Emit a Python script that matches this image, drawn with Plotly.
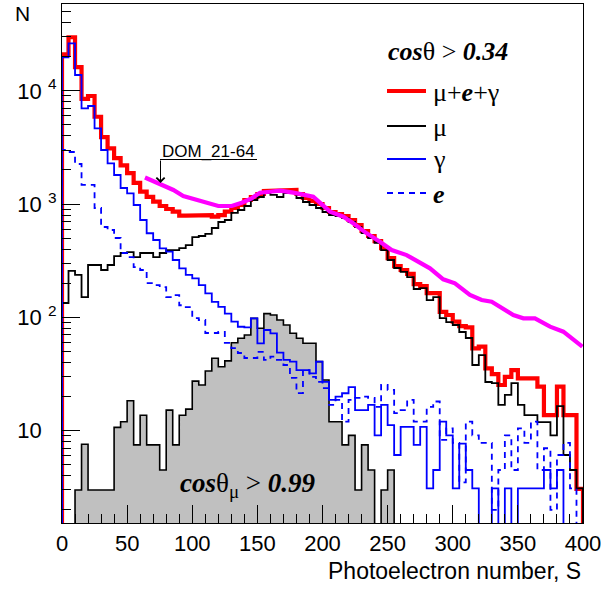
import plotly.graph_objects as go

# ---------------- data ----------------
BIN_WIDTH = 5          # photoelectrons per bin
S_MIN, S_MAX = 0, 400

# cos(theta) > 0.34 : mu + e + gamma (total)
total = [21000, 29700, 16200, 8500, 9000, 5900, 3900, 3100, 2550, 2200,
         1880, 1540, 1290, 1160, 1050, 962, 905, 857, 790, 790,
         801, 790, 800, 774, 800, 857, 924, 982, 1087, 1155,
         1228, 1305, 1332, 1305, 1332, 1332, 1228, 1132, 1065, 1002,
         924, 852, 818, 785, 724, 654, 579, 523, 472, 409,
         334, 284, 262, 242, 197, 189, 164, 164, 112, 105,
         91.6, 83.9, 81.7, 53.3, 55.1, 35.5, 31.6, 25.3, 29.9, 34.3,
         29.0, 29.0, 29.0, 24.5, 13.7, 13.7, 24.5, 13.7, 13.7, 3.06]

# muons
muon = [134, 257, 237, 151, 290, 290, 262, 290, 348, 370,
        377, 341, 370, 370, 341, 370, 393, 393, 409, 435,
        512, 523, 545, 615, 695, 724, 835, 887, 962, 1087,
        1155, 1253, 1204, 1155, 1253, 1253, 1132, 1044, 982, 924,
        852, 801, 785, 754, 695, 628, 556, 502, 454, 393,
        321, 273, 252, 227, 178, 181, 142, 151, 98.7, 91.0,
        85.7, 74.3, 65.8, 38.0, 46.5, 26.9, 26.3, 16.9, 20.7, 26.3,
        16.9, 13.7, 13.7, 11.9, 11.9, 9.1, 16.5, 6.1, 4.5, 3.1]

# gammas
gamma = [19750, 26250, 13790, 7006, 7341, 4666, 3002, 2291, 1806, 1387,
         1245, 982, 724, 553, 482, 407, 380, 321, 271, 237,
         221, 193, 163, 137, 124, 108, 91.6, 82.7, 81.7, 98.1,
         59.1, 77.4, 72.4, 48.8, 42.1, 40.7, 34.3, 34.3, 32.1, 40.7,
         27.0, 18.7, 20.0, 21.4, 24.2, 15.2, 15.2, 16.9, 9.1, 16.9,
         11.2, 6.1, 10.8, 10.8, 7.5, 10.8, 3.1, 4.5, 12.0, 9.1,
         3.1, 7.7, 4.5, 3.1, 1, 1, 3.1, 1, 3.1, 1,
         3.1, 3.1, 3.1, 3.1, 4.5, 3.1, 4.5, 1, 1, 1]

# electrons
electron = [3002, 2882, 2259, 1475, 1475, 924, 628, 591, 502, 370,
            341, 278, 262, 201, 193, 185, 151, 157, 128, 123,
            98.7, 94.8, 72.8, 72.8, 74.3, 59.5, 53.6, 48.5, 43.8, 43.8,
            49.7, 42.1, 45.0, 42.1, 38.0, 29.2, 21.5, 34.3, 29.9, 27.0,
            23.8, 16.9, 18.7, 12.0, 18.7, 19.5, 20.0, 19.5, 16.2, 25.3,
            22.9, 14.3, 15.2, 18.7, 12.0, 12.0, 16.2, 18.1, 8.3, 10.5,
            7.8, 3.5, 12.0, 9.1, 7.8, 7.8, 2.0, 4.5, 9.1, 4.5,
            10.5, 7.8, 12.0, 4.5, 7.0, 2.0, 6.1, 7.8, 3.1, 1]

# muons with cos(theta_mu) > 0.99 (grey filled)
vertical = [0, 0, 3.0, 7.6, 3.0, 3.0, 3.0, 3.0, 10.7, 12.0,
            18.4, 7.5, 13.7, 7.5, 7.5, 4.5, 15.2, 7.5, 13.7, 15.5,
            27.4, 25.3, 33.6, 43.6, 36.7, 41.3, 59.8, 65.4, 69.9, 98.1,
            80.1, 108, 105, 94.8, 85.7, 72.4, 65.4, 59.1, 59.1, 40.7,
            28.0, 12.0, 12.0, 7.5, 9.1, 3.0, 7.5, 4.5, 0, 3.0,
            4.5, 0, 0, 0, 0, 0, 0, 0, 0, 0,
            0, 0, 0, 0, 0, 0, 0, 0, 0, 0,
            0, 0, 0, 0, 0, 0, 0, 0, 0, 0]

# DOM_21-64 curve
dom_S = [63.7, 76.5, 85.5, 93.1, 102.1, 111.1, 120.0, 130.3, 138.0, 145.6,
         152.0, 159.7, 167.4, 177.6, 192.9, 205.8, 216.0, 223.6, 233.9, 244.1,
         253.1, 264.6, 274.9, 282.5, 292.7, 301.7, 313.2, 322.2, 329.9, 338.8,
         346.5, 354.2, 363.1, 374.7, 384.9, 399.5]
dom_N = [1718, 1476, 1332, 1179, 1103, 1016, 962, 962, 1028, 1125,
         1261, 1286, 1313, 1261, 1162, 857, 774, 677, 552, 466,
         393, 355, 308, 271, 217, 200, 158, 142.5, 137.7, 120.3,
         105, 98.2, 98.2, 82.8, 74.8, 55.1]

y_tick_vals = [10, 100, 1000, 10000]
x_tick_vals = [0, 50, 100, 150, 200, 250, 300, 350, 400]

# ---------------- helpers ----------------
FLOOR = 0.3   # below the visible range: histogram edges drop to the frame bottom


def steps(vals):
    xs, ys = [S_MIN], [FLOOR]
    for i, v in enumerate(vals):
        x0 = S_MIN + i * BIN_WIDTH
        v = v if v > 0 else FLOOR
        xs += [x0, x0 + BIN_WIDTH]
        ys += [v, v]
    xs.append(S_MAX)
    ys.append(FLOOR)
    return xs, ys


# plot area in pixels
W, H = 614, 592
L, R, T, B = 62, 583, 4, 523


def px_x(x):
    return (x - L) / (R - L)


def px_y(y):
    return (B - y) / (B - T)


SANS = "Liberation Sans, Arial, sans-serif"
SERIF = "Liberation Serif, Times New Roman, serif"

fig = go.Figure()

xs, ys = steps(vertical)
fig.add_trace(go.Scatter(x=xs, y=ys, mode="lines", fill="toself",
                         fillcolor="#c0c0c0",
                         line=dict(color="black", width=1.6),
                         showlegend=False, hoverinfo="skip"))

xs, ys = steps(total)
fig.add_trace(go.Scatter(x=xs, y=ys, mode="lines",
                         line=dict(color="#ff0000", width=4.2),
                         showlegend=False))
xs, ys = steps(muon)
fig.add_trace(go.Scatter(x=xs, y=ys, mode="lines",
                         line=dict(color="black", width=1.8),
                         showlegend=False))
xs, ys = steps(gamma)
fig.add_trace(go.Scatter(x=xs, y=ys, mode="lines",
                         line=dict(color="#0000ff", width=1.8),
                         showlegend=False))
xs, ys = steps(electron)
fig.add_trace(go.Scatter(x=xs, y=ys, mode="lines",
                         line=dict(color="#0000ff", width=1.8, dash="6px,5px"),
                         showlegend=False))
fig.add_trace(go.Scatter(x=dom_S, y=dom_N, mode="lines",
                         line=dict(color="#ff00ff", width=4.2),
                         showlegend=False))

ticktext = ["10<span style='color:rgba(0,0,0,0)'>&nbsp;<sup>1</sup></span>",
            "10&nbsp;<sup>2</sup>", "10&nbsp;<sup>3</sup>", "10&nbsp;<sup>4</sup>"]

minor_y = [m * 10 ** e for e in range(0, 5) for m in range(2, 10)]

fig.update_layout(
    width=W, height=H, autosize=False,
    margin=dict(l=L, r=W - R, t=T, b=H - B),
    paper_bgcolor="white", plot_bgcolor="white",
    showlegend=False,
    xaxis=dict(range=[S_MIN, S_MAX], tickmode="array", tickvals=x_tick_vals,
               ticks="inside", ticklen=18, tickwidth=1, tickcolor="black",
               showline=True, linecolor="black", linewidth=1.2, mirror=True,
               showgrid=False, zeroline=False,
               tickfont=dict(family=SANS, size=22, color="black"),
               minor=dict(dtick=10, ticks="inside", ticklen=9,
                          tickcolor="black", tickwidth=1, showgrid=False)),
    yaxis=dict(type="log", range=[0.1853, 4.7661], tickmode="array",
               tickvals=y_tick_vals, ticktext=ticktext,
               ticks="inside", ticklen=18, tickwidth=1, tickcolor="black",
               showline=True, linecolor="black", linewidth=1.2, mirror=True,
               showgrid=False, zeroline=False,
               tickfont=dict(family=SANS, size=22, color="black"),
               minor=dict(tickmode="array", tickvals=minor_y, ticks="inside",
                          ticklen=9, tickcolor="black", tickwidth=1,
                          showgrid=False)),
)

ann = []
# axis titles
ann.append(dict(text="N", x=px_x(22), y=px_y(13), xref="paper", yref="paper",
                xanchor="center", yanchor="middle", showarrow=False,
                font=dict(family=SANS, size=21, color="black")))
ann.append(dict(text="Photoelectron number, S", x=px_x(583), y=px_y(571),
                xref="paper", yref="paper", xanchor="right", yanchor="middle",
                showarrow=False, font=dict(family=SANS, size=23, color="black")))

# legend
ann.append(dict(text="<b><i>cos</i></b>θ &gt; <b><i>0.34</i></b>",
                x=px_x(386), y=px_y(52), xref="paper", yref="paper",
                xanchor="left", yanchor="middle", showarrow=False,
                font=dict(family=SERIF, size=26, color="black")))
legend_rows = [
    ("μ+<b><i>e</i></b>+γ", 91, dict(color="#ff0000", width=4.2)),
    ("μ", 126, dict(color="black", width=1.8)),
    ("γ", 159, dict(color="#0000ff", width=1.8)),
    ("<b><i>e</i></b>", 193, dict(color="#0000ff", width=1.8, dash="6px,5px")),
]
shapes = []
for label, ypx, line in legend_rows:
    shapes.append(dict(type="line", xref="paper", yref="paper",
                       x0=px_x(387), x1=px_x(426), y0=px_y(ypx), y1=px_y(ypx),
                       line=line))
    ann.append(dict(text=label, x=px_x(431), y=px_y(ypx + 1), xref="paper",
                    yref="paper", xanchor="left", yanchor="middle",
                    showarrow=False, font=dict(family=SERIF, size=26, color="black")))

# cos theta_mu > 0.99 label
ann.append(dict(text="<b><i>cos</i></b>θ<sub>μ</sub> &gt; <b><i>0.99</i></b>",
                x=px_x(178), y=px_y(485), xref="paper", yref="paper",
                xanchor="left", yanchor="middle", showarrow=False,
                font=dict(family=SERIF, size=27, color="black")))

# DOM_21-64 label with arrow
ann.append(dict(text="DOM_21-64", x=px_x(160), y=px_y(151), xref="paper",
                yref="paper", xanchor="left", yanchor="middle", showarrow=False,
                font=dict(family=SANS, size=17, color="black")))
shapes.append(dict(type="line", xref="paper", yref="paper",
                   x0=px_x(160), x1=px_x(257), y0=px_y(159.5), y1=px_y(159.5),
                   line=dict(color="black", width=1)))
ann.append(dict(text="", x=px_x(160.5), y=px_y(183), xref="paper", yref="paper",
                showarrow=True, ax=0, ay=-24, arrowhead=4, arrowsize=1.6,
                arrowwidth=1, arrowcolor="black"))

fig.update_layout(annotations=ann, shapes=shapes)

fig.write_html("out.html")
